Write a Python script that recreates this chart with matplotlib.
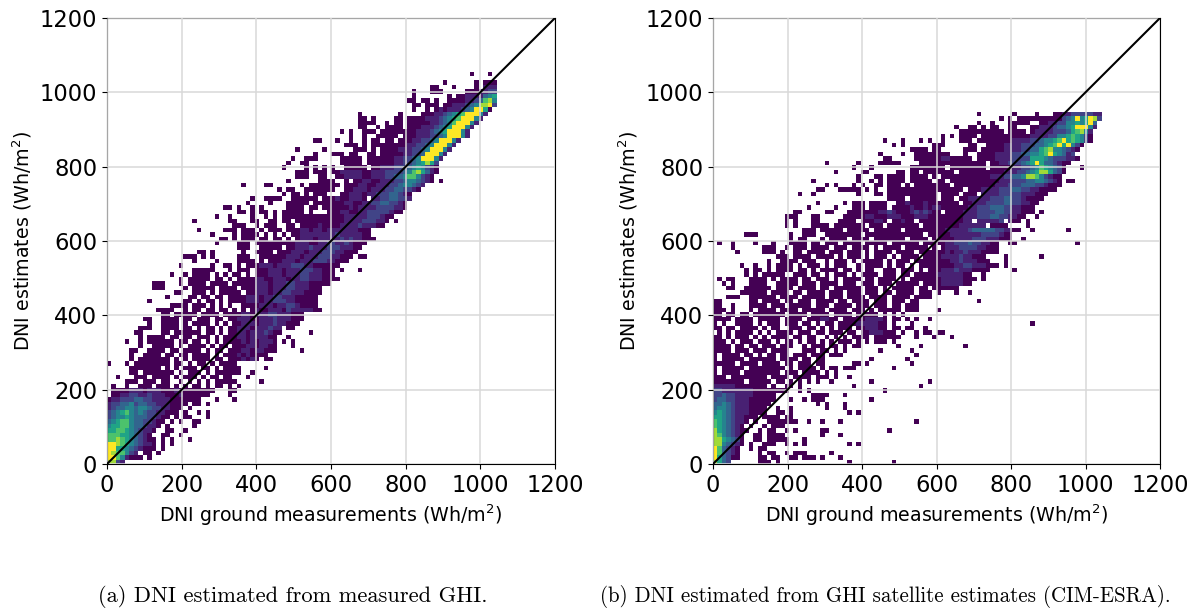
import matplotlib
matplotlib.use('Agg')
import matplotlib.pyplot as plt
from matplotlib.colors import PowerNorm
import numpy as np

# binned counts, top row first, "empty bins before : counts"
# digit = count level, dot = empty bin
rows_a = [
    "81:1...1",
    "0:",
    "75:1......1.111",
    "72:11...1....1.222",
    "68:1...111.....1112233",
    "68:1.......1.112222456",
    "67:11.11.1..11112234785",
    "68:11.111.112223458893",
    "68:1..1.1212223459961",
    "56:1........1....111223456799952",
    "56:11.1....11.11112223456799952",
    "56:1111..1.11.1111122345799952",
    "56:11..1.1111.111222345699952",
    "52:1.1..111.11111111222345699952",
    "54:1..1..11111.111222334599952",
    "46:11...1..1..1.11.11.11122334599952",
    "53:111.1.1111111122334599952",
    "42:1.....1......111.1.1111222334599952",
    "46:1...111.11..11.111112233499952",
    "41:1..111.....11111.11111122334599952",
    "40:1..11.......11111.1111112233456863",
    "39:1....1.1.1.1..11111.112223334565321",
    "42:111.111.112222211222333345786421",
    "42:111..11..1122221122233445775321",
    "40:1......1111..1.112211222334554321.1",
    "30:1....11......1.1111111.111221122233455432",
    "38:1.11..1111111..11222122233443321",
    "39:1.11.1.111...1122212233344321",
    "32:1..1111..111111.1112112221.223344332",
    "31:1....1...11111.111111122112233443321",
    "26:11.1..1.1.....1111.11.1111112122223333221",
    "29:11.1.11.1.11111.1...11122112233333211",
    "24:1..1....1..1.1.1111111111111122222333211",
    "19:1.......11...11..11.11.111111111112222333221.1",
    "28:111..1.111..11.1111211112222322211",
    "20:1.....111.111.1.111.1112212212222222111",
    "23:1....1.1111.1.1.1.112222222232222211",
    "25:11.1.111.11.11.1.122212222232322111",
    "24:1....111.1111111112221122332232111",
    "29:111..11111.11222322233322211",
    "20:11.1......1..1111.111222122233322111",
    "17:111.1.1.....111..111111222122233322111.11",
    "19:1....1....1111.1.111222122233322111",
    "16:1......1..11.1.111222122233322111111",
    "19:11111...1.111.111222122233322111.1...1",
    "14:1..1.1111.1.1.11.1.111222122233222111",
    "16:1.11111.11.1.11112211222122332221111",
    "10:111...1.1111.1111.1111122212223322211111",
    "10:111....1.11111.1111.111222122233222111",
    "15:11..111.1.11111.11222122332221111",
    "13:1....11.11.11.11112221223322211111",
    "9:1.......11.1.11.1.11112221223332211111",
    "14:1111.111.1.1.1..11112221223321111",
    "11:1111..1.11.11.11.1.1.1211222132222211",
    "12:11.11111.1111.111122122233222111",
    "8:11..1111.11.111.11.11222112223222111",
    "9:1..1111.1.1111.1.1.112221222322111",
    "7:111..1111.11.1.11.1.112221222322.11",
    "6:11....11.111111.11.1.112212223211......1",
    "7:1.1111.11.11.111.1.111221222211..1",
    "4:1..1.111111.11.11.1.1.111121212221.1.1",
    "7:1..11111.1.1111.1.11.1112212211...1",
    "5:11..1111.11.1111.1.11.11122122111.....1",
    "5:1..1111.11.11.1111.1.1112121111",
    "5:1.1111111.1.1.1111.11.1112121.11",
    "0:1...1.11111111.11.1.11.1.1111",
    "5:1111111.1.1.111.11.1.1111.....1",
    "5:11.1111111.1.111.1.111111..1",
    "2:1...111.1111.1.111.1.11.11...1",
    "4:111.111.11..1.1.1.1.11111.....1",
    "1:1..1..111.111.1.1.11.1.11.1.1",
    "1:11112221222111211111111...11",
    "1:1122332232221112111111....1",
    "0:122333443322221111111...1...1",
    "0:233445344332221111.11.1",
    "0:23445545543322111.1",
    "0:3456754543322111.1..1.1",
    "0:34556544433211.1.11...1",
    "0:4567754433211.1.1..11",
    "0:566775443221.1.....1",
    "0:66776543221..11..1",
    "0:7776654321..11..1",
    "0:77876543211.1.1...1",
    "0:99876543221.1.1",
    "0:99665432111.1",
    "0:9877532.11.1",
    "0:99752111.1",
    "0:8832",
]

rows_b = [
    "59:1.......1....1...11223333322",
    "64:1.1.1111111111345956983",
    "59:1..1...11111..1122335565694",
    "54:1..11.1.11..11...112223445699952",
    "55:1111111111.1111.12222333467852",
    "51:1.1.1111.1111111111122223355676531",
    "38:1...1...1.1..1...111.11111111222233455679676531",
    "40:1.1......111.....11..1111222233344567969531",
    "44:1111.11.....111.1111122223344678554321",
    "37:1....1..11111111...1..1111222233445567965423",
    "38:11.....1111112211111.11112222333366654333221",
    "25:1......1....11111....111111111111111.112233345696443211",
    "31:1...1........11111111.11111111.11111223345765431...1",
    "27:1.....11......11.11.1111111.111111111122233456886431",
    "32:1...11.1111.1111.1.111111111112223344588753211",
    "22:1.........1..1.1.1111.11111.11.1111111111122233344554321.11",
    "25:1.1...1.1..11.111.1.11111111.111111111222333444332111",
    "23:11...11111.1.1..11111111111111111.11122223334433221111",
    "19:1..1.........1...11.11111111111.1111.111.222233333222111",
    "39:1111.111111.111.1122222333443321111",
    "23:1.....1.111.1111..11211121111111.11222333344332211",
    "21:1.....1...111.1111.11112112122111111223334443322111",
    "18:11.....11...111111122321112323211.11112223333443322111.1",
    "16:111...11.....11111221112221112221111111122233344332211..1",
    "16:1.1...11....1111.111221.11211.111111111122.222223.211.1",
    "16:1.1...1111.1111111.111.1111111.11111111222222.1111....1",
    "20:111.11111.11111.111111.11111111122222344444332211..1.......1",
    "7:111.......1..111..11111111.1111111111111.1111122222223333211",
    "17:1.11...1.1111.1111.1111111.1111.111112222333222111..1",
    "1:1..1....1...1...1111.11.111.1111.11111.111111.11111223334332211..11.............1",
    "4:1......111..1.111.1111.111.1111.1.1111.11111.1.1222333322111",
    "5:1.....111.1..11.1111.111.111.1.1111.1111.111111212232221111",
    "14:111.1111.1111.1.111.1.111.1.1111.11112222322111....1.......1",
    "12:1..1111.111..1.111.1.11111.1.111.11111111223222111...1",
    "6:1..1..1.1111.1.111.1.111..1.1111.1.11.1.111111112233222111.1",
    "7:1.11.1.1111.11.1.1111.11.1.11..111.111.1.11122232221111.....1",
    "7:1.1.11111..111.11.1.111.1.1111.111.11.1111122222211..1",
    "1:1.11...1111.1.1111.11.111.1.1111.11.1111.1.111111122222111.1",
    "2:1.1...1111..11111.111.1111.111.111.111.11111.11112222211",
    "3:11..111111.1111.1111.11.111111.111.1.11111.11.111111",
    "6:111111.1111.11.1111.111.111.111.11.1111.111.1...1..1",
    "3:111..111111.1111.11111.111.1111.1111.1111.1111",
    "0:11......11.1111.11.111.1111.11.1111.111.111.11.............1",
    "0:11..1...1111.111.11111.111.1111.111.111.11.111",
    "0:111.1...1.1111.1111.11111.1111.111.1.11111.111....1",
    "0:11.11.11.1111111.1111.1111.1111.11111.1.1.1",
    "0:1111.1111.11111.1111.1112211.1111122221.11.1.1..1",
    "0:1.1..1111.1.111.111.11.1.11.11112222211.1...1..........................1",
    "0:11.11.1111.1.11..111.11.1.1.111.1122211.11.11..1",
    "1:1.1.1111.1.1.1111.111.11.111.11.11222111.1..1.11.11",
    "0:11.1.111.1.1.1111.11.11..1.1.1.1111.111111...1...1...1",
    "0:111.1.111.111.1.11.1.11.1.1.111.1.1.111.1",
    "0:1111.11.11.111.111..1.111.11.1.11........1....1.........1",
    "0:1111.111.111.1111...111.11.1.1.......1......1",
    "0:1.1111.11.1.11.11.111.111.111................1",
    "0:1.11111.111111.1111.11.11..........1.......1",
    "0:11111.1111.1111.11.111.11......11.1.........1",
    "0:1.11111.11111111.1.1111.1.11.111........1",
    "0:1.1111.11111111.111.1111.1.1",
    "0:111.11111111.1111.1111.111.1..1",
    "0:1111111.11111.11.1.1.1.1..1........1............1",
    "0:222221111111.1..11.1...........1..............1",
    "0:33222222211111111..1.1................1",
    "0:33433222211111........1111...1",
    "0:34433222111111...1..1.111..........1",
    "0:4454322211111..........1.1...1",
    "0:455432221111..1..1.......1...1",
    "0:565432221111..11.1............1.1",
    "0:6654322111.1111.11",
    "0:76543221.1..1111111..1..1...1................1",
    "0:7654321.1..1.111",
    "0:86543211..1.11..1.1.....11.............1",
    "0:8754321..11.1111........1...1",
    "0:8865431..11.11111...1",
    "0:8854321.1..111..1.1.1.........1.1",
    "0:974321..1.11",
    "0:974321....1.11..1.111.....1",
    "0:964311....11.11..11.111.1...1",
    "0:8643......111.1...............1.........1",
]

ticks = [0, 200, 400, 600, 800, 1000, 1200]
bin_edges = np.arange(0, 1201, 12)
captions = ['(a) DNI estimated from measured GHI.',
            '(b) DNI estimated from GHI satellite estimates (CIM-ESRA).']


def to_grid(rows):
    grid = np.full((100, 100), np.nan)
    for i, row in enumerate(rows):
        blank, cells = row.split(':')
        y = len(rows) - 1 - i
        for j, c in enumerate(cells):
            if c != '.':
                grid[y, int(blank) + j] = int(c)
    return np.ma.masked_invalid(grid)


fig = plt.figure(figsize=(12.01, 6.12), dpi=100)
W, H = 1201.0, 612.0
boxes = [[107 / W, 1 - 464 / H, 448 / W, 446 / H],
         [713 / W, 1 - 464 / H, 447 / W, 446 / H]]

for box, rows in zip(boxes, [rows_a, rows_b]):
    ax = fig.add_axes(box)
    ax.pcolormesh(bin_edges, bin_edges, to_grid(rows), cmap='viridis',
                  norm=PowerNorm(1.15, vmin=1, vmax=9))
    ax.plot([0, 1200], [0, 1200], color='black', lw=1.5, zorder=4)
    ax.set_xlim(0, 1200)
    ax.set_ylim(0, 1200)
    ax.set_xticks(ticks)
    ax.set_yticks(ticks)
    ax.tick_params(labelsize=16.3)
    ax.grid(True, color='#d9d9d9', lw=1.1, zorder=3)
    ax.set_axisbelow(False)
    ax.set_xlabel('DNI ground measurements (Wh/m$^2$)', fontsize=13.7, labelpad=4)
    ax.set_ylabel('DNI estimates (Wh/m$^2$)', fontsize=13.7, labelpad=4)

fig.text(293 / W, 1 - 597 / H, captions[0], family='cmr10', fontsize=16.2, ha='center', va='center')
fig.text(885 / W, 1 - 597 / H, captions[1], family='cmr10', fontsize=15.1, ha='center', va='center')

plt.savefig('out.png', dpi=100)
